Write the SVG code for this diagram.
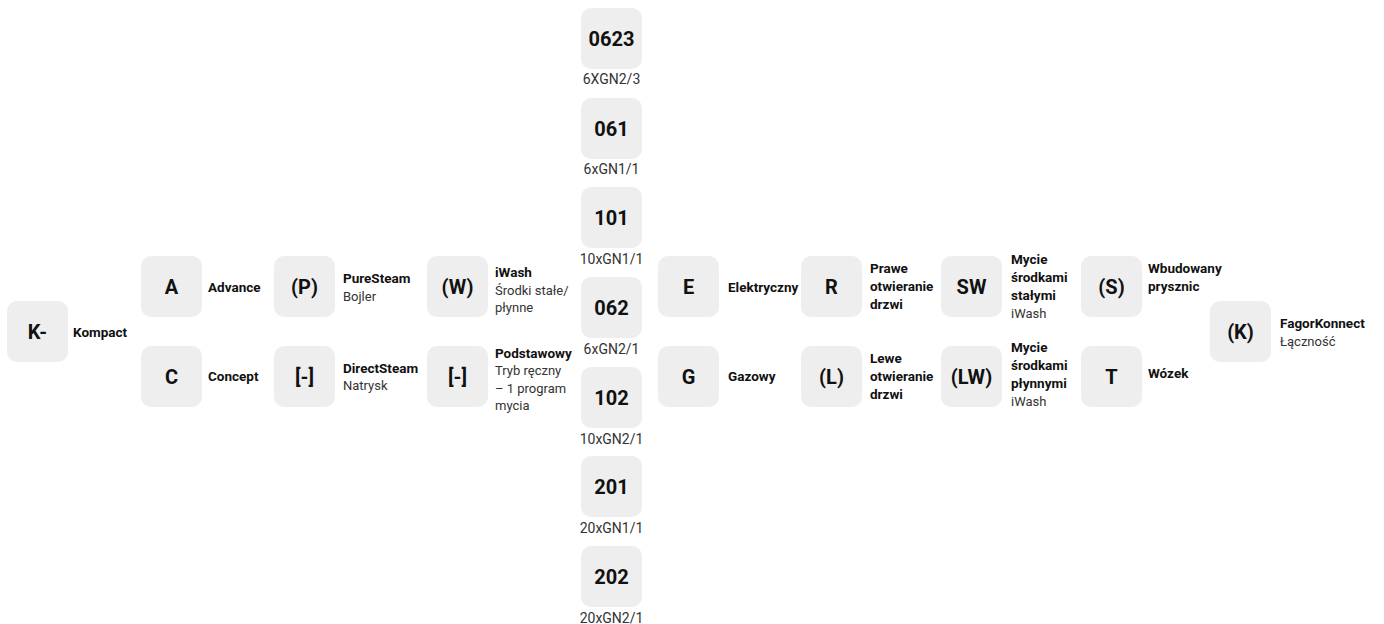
<svg xmlns="http://www.w3.org/2000/svg" width="1384" height="624" viewBox="0 0 1384 624">
<style>
.box{fill:#eeeeee}
.bl{font-family:Roboto,"Liberation Sans",sans-serif;font-weight:700;font-size:20px;fill:#111;text-anchor:middle}
.b{font-family:Roboto,"Liberation Sans",sans-serif;font-weight:700;font-size:13.5px;fill:#111}
.r{font-family:Roboto,"Liberation Sans",sans-serif;font-weight:400;font-size:13px;fill:#333}
.c{font-family:Roboto,"Liberation Sans",sans-serif;font-weight:400;font-size:14px;fill:#333;text-anchor:middle}
</style>
<rect width="1384" height="624" fill="#ffffff"/>
<g id="connectors"/>
<g id="n-k"><rect class="box" x="7" y="301" width="61" height="61" rx="10"/><text class="bl" x="37.5" y="339">K-</text><text class="b" x="73" y="337">Kompact</text></g>
<g id="n-a"><rect class="box" x="141" y="256" width="61" height="61" rx="10"/><text class="bl" x="171.5" y="294">A</text><text class="b" x="208" y="291.5">Advance</text></g>
<g id="n-c"><rect class="box" x="141" y="346" width="61" height="61" rx="10"/><text class="bl" x="171.5" y="384">C</text><text class="b" x="208" y="381">Concept</text></g>
<g id="n-p"><rect class="box" x="274" y="256" width="61" height="61" rx="10"/><text class="bl" x="304.5" y="294">(P)</text><text class="b" x="343" y="283">PureSteam</text><text class="r" x="343" y="301">Bojler</text></g>
<g id="n-ds"><rect class="box" x="274" y="346" width="61" height="61" rx="10"/><text class="bl" x="304.5" y="384">[-]</text><text class="b" x="343" y="372.5">DirectSteam</text><text class="r" x="343" y="390">Natrysk</text></g>
<g id="n-w"><rect class="box" x="427" y="256" width="61" height="61" rx="10"/><text class="bl" x="457.5" y="294">(W)</text><text class="b" x="495" y="277">iWash</text><text class="r" x="495" y="294.5">Środki stałe/</text><text class="r" x="495" y="312">płynne</text></g>
<g id="n-pod"><rect class="box" x="427" y="346" width="61" height="61" rx="10"/><text class="bl" x="457.5" y="384">[-]</text><text class="b" x="495" y="357.5">Podstawowy</text><text class="r" x="495" y="375">Tryb ręczny</text><text class="r" x="495" y="392.5">– 1 program</text><text class="r" x="495" y="410">mycia</text></g>
<g id="n-0623"><rect class="box" x="581" y="8" width="61" height="61" rx="10"/><text class="bl" x="611.5" y="46">0623</text><text class="c" x="611.5" y="84">6XGN2/3</text></g>
<g id="n-061"><rect class="box" x="581" y="98" width="61" height="61" rx="10"/><text class="bl" x="611.5" y="136">061</text><text class="c" x="611.5" y="174">6xGN1/1</text></g>
<g id="n-101"><rect class="box" x="581" y="187" width="61" height="61" rx="10"/><text class="bl" x="611.5" y="225">101</text><text class="c" x="611.5" y="263.5">10xGN1/1</text></g>
<g id="n-062"><rect class="box" x="581" y="277" width="61" height="61" rx="10"/><text class="bl" x="611.5" y="315">062</text><text class="c" x="611.5" y="353.5">6xGN2/1</text></g>
<g id="n-102"><rect class="box" x="581" y="367" width="61" height="61" rx="10"/><text class="bl" x="611.5" y="405">102</text><text class="c" x="611.5" y="443.5">10xGN2/1</text></g>
<g id="n-201"><rect class="box" x="581" y="456" width="61" height="61" rx="10"/><text class="bl" x="611.5" y="494">201</text><text class="c" x="611.5" y="533">20xGN1/1</text></g>
<g id="n-202"><rect class="box" x="581" y="546" width="61" height="61" rx="10"/><text class="bl" x="611.5" y="584">202</text><text class="c" x="611.5" y="622.5">20xGN2/1</text></g>
<g id="n-e"><rect class="box" x="658" y="256" width="61" height="61" rx="10"/><text class="bl" x="688.5" y="294">E</text><text class="b" x="728" y="292">Elektryczny</text></g>
<g id="n-g"><rect class="box" x="658" y="346" width="61" height="61" rx="10"/><text class="bl" x="688.5" y="384">G</text><text class="b" x="728" y="381">Gazowy</text></g>
<g id="n-r"><rect class="box" x="801" y="256" width="61" height="61" rx="10"/><text class="bl" x="831.5" y="294">R</text><text class="b" x="870" y="273">Prawe</text><text class="b" x="870" y="291">otwieranie</text><text class="b" x="870" y="309">drzwi</text></g>
<g id="n-l"><rect class="box" x="801" y="346" width="61" height="61" rx="10"/><text class="bl" x="831.5" y="384">(L)</text><text class="b" x="870" y="363">Lewe</text><text class="b" x="870" y="381">otwieranie</text><text class="b" x="870" y="399">drzwi</text></g>
<g id="n-sw"><rect class="box" x="941" y="256" width="61" height="61" rx="10"/><text class="bl" x="971.5" y="294">SW</text><text class="b" x="1011" y="264">Mycie</text><text class="b" x="1011" y="282">środkami</text><text class="b" x="1011" y="300">stałymi</text><text class="r" x="1011" y="318">iWash</text></g>
<g id="n-lw"><rect class="box" x="941" y="346" width="61" height="61" rx="10"/><text class="bl" x="971.5" y="384">(LW)</text><text class="b" x="1011" y="352">Mycie</text><text class="b" x="1011" y="370">środkami</text><text class="b" x="1011" y="388">płynnymi</text><text class="r" x="1011" y="406">iWash</text></g>
<g id="n-s"><rect class="box" x="1081" y="256" width="61" height="61" rx="10"/><text class="bl" x="1111.5" y="294">(S)</text><text class="b" x="1148" y="273">Wbudowany</text><text class="b" x="1148" y="291">prysznic</text></g>
<g id="n-t"><rect class="box" x="1081" y="346" width="61" height="61" rx="10"/><text class="bl" x="1111.5" y="384">T</text><text class="b" x="1148" y="378">Wózek</text></g>
<g id="n-fk"><rect class="box" x="1210" y="301" width="61" height="61" rx="10"/><text class="bl" x="1240.5" y="339">(K)</text><text class="b" x="1280" y="328">FagorKonnect</text><text class="r" x="1280" y="345.5">Łączność</text></g>
</svg>
